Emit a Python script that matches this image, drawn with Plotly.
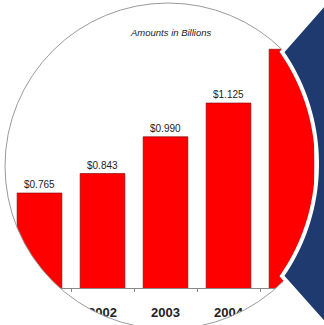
import numpy as np
import plotly.graph_objects as go

# ---- data ----
years = ["2001", "2002", "2003", "2004", "2005"]
amounts = [0.765, 0.843, 0.990, 1.125, 1.340]
labels = ["$0.765", "$0.843", "$0.990", "$1.125", "$1.340"]
title_text = "Amounts in Billions"

W, H = 324, 325


def px(x, y):
    return x / W, 1 - y / H


def path_from(points, close=True):
    s = ""
    for i, (x, y) in enumerate(points):
        xp, yp = px(x, y)
        s += ("M" if i == 0 else "L") + f"{xp:.5f},{yp:.5f} "
    if close:
        s += "Z "
    return s


fig = go.Figure()
fig.add_trace(go.Bar(
    x=years, y=amounts, text=labels, textposition="outside",
    textfont=dict(family="Liberation Sans Narrow, Arial Narrow, Liberation Sans, sans-serif",
                  size=10, color="#222222"),
    marker=dict(color="#FF0000", line=dict(color="#7a0000", width=0.6)),
    cliponaxis=False,
))

# lens geometry (pixels)
cx, cy, r = 168, 166, 163
ang = np.linspace(0, 2 * np.pi, 121)
circle_ccw = [(cx + r * np.cos(-a), cy + r * np.sin(-a)) for a in ang]
rect_cw = [(-5, -5), (330, -5), (330, 330), (-5, 330)]
mask_path = path_from(rect_cw) + path_from(circle_ccw)

# blue chevron with arc edge
acx, acy, ar = 120.3, 164, 196.7
t0 = np.arctan2(52 - acy, 282 - acx)
arc = [(acx + ar * np.cos(t), acy + ar * np.sin(t)) for t in np.linspace(t0, -t0, 40)]
blue_pts = [(340, -6), (333, -6)] + arc + [(331, 331), (340, 331)]
blue_path = path_from(blue_pts)

shapes = [
    dict(type="path", path=mask_path, xref="paper", yref="paper", layer="above",
         fillcolor="white", line=dict(width=0)),
    dict(type="circle", xref="paper", yref="paper", layer="above",
         x0=(cx - r) / W, x1=(cx + r) / W, y0=1 - (cy + r) / H, y1=1 - (cy - r) / H,
         line=dict(color="#9a9a9a", width=1)),
    dict(type="path", path=blue_path, xref="paper", yref="paper", layer="above",
         fillcolor="#1E3A6E", line=dict(color="white", width=4)),
]

# axis mapping: baseline at 288px, 250 px per unit
base_px = 288
ppu = 250.0
y_floor = 0.765 - (base_px - 193) / ppu
y_top = y_floor + base_px / ppu
x_left = -39.5 / 63.0
x_right = x_left + W / 63.0

fig.update_layout(
    width=W, height=H, margin=dict(l=0, r=0, t=0, b=0),
    paper_bgcolor="white", plot_bgcolor="white",
    showlegend=False, bargap=0.29,
    shapes=shapes,
    annotations=[dict(text=title_text, x=171 / W, y=1 - 25 / H, xref="paper", yref="paper",
                      showarrow=False,
                      font=dict(family="Liberation Sans, Arial, sans-serif", size=9.5,
                                color="#222222", style="italic"))],
    xaxis=dict(range=[x_left, x_right], domain=[0, 1], showgrid=False, zeroline=False,
               showline=True, linecolor="#888888", linewidth=1,
               ticks="outside", tickson="boundaries", ticklen=3, tickcolor="#888888",
               ticklabelstandoff=12,
               tickfont=dict(family="Liberation Sans Narrow, Arial Narrow, Liberation Sans, sans-serif",
                             size=13, color="#222222", weight="bold")),
    yaxis=dict(range=[y_floor, y_top], domain=[1 - base_px / H, 1], showgrid=False,
               zeroline=False, showticklabels=False, showline=False),
)

fig.write_html("out.html")
